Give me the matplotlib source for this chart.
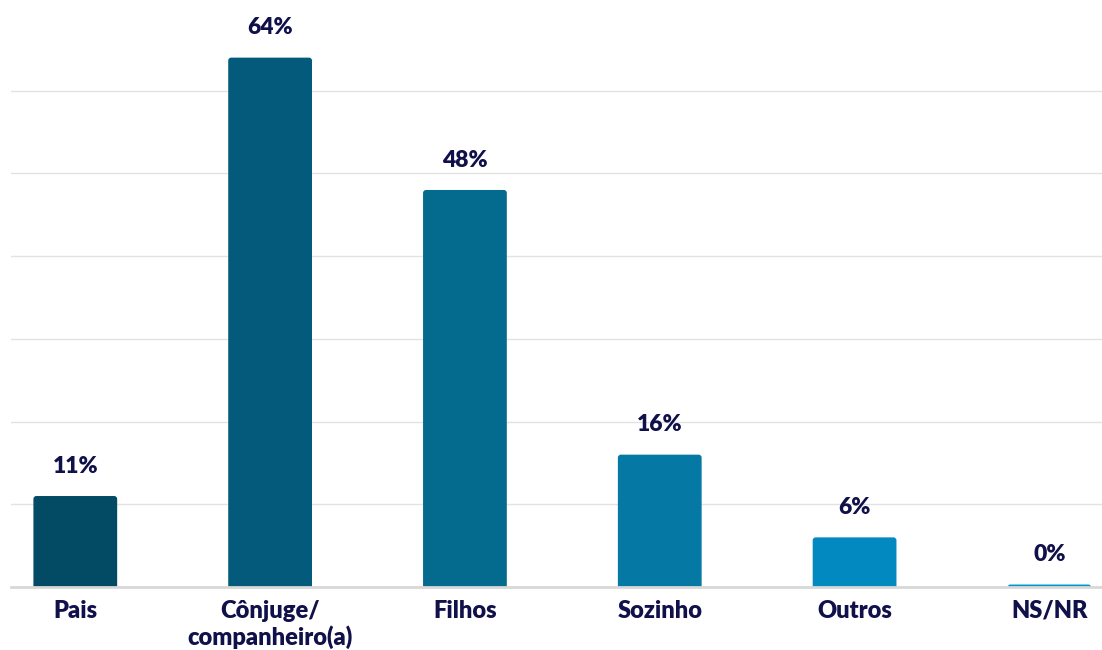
import matplotlib
matplotlib.use("Agg")
import matplotlib.pyplot as plt
from matplotlib.patches import FancyBboxPatch

categories = ["Pais", "Cônjuge/\ncompanheiro(a)", "Filhos", "Sozinho", "Outros", "NS/NR"]
values = [11, 64, 48, 16, 6, 0]
colors = ["#034b65", "#035a7a", "#046b8e", "#0579a3", "#0289bf", "#0096d1"]

text_color = "#10104a"
plt.rcParams["font.family"] = ["Lato", "DejaVu Sans"]

fig = plt.figure(figsize=(11.02, 6.5), dpi=100)
ax = fig.add_axes([11 / 1102, 63 / 650, 1 - 11 / 1102, 579 / 650])
ax.set_xlim(-0.33, 5.27)
ax.set_ylim(0, 70)

bar_w = 0.43
# px per data unit, used to keep the corner rounding circular
px_x = 1091 / 5.6
px_y = 579 / 70
r = 3 / px_x
for i, (v, c) in enumerate(zip(values, colors)):
    h = max(v, 0.3)  # keep a sliver visible for empty categories
    patch = FancyBboxPatch((i - bar_w / 2, -2), bar_w, h + 2,
                           boxstyle=f"round,pad=0,rounding_size={r}",
                           mutation_aspect=px_x / px_y,
                           fc=c, ec="none", zorder=3, clip_on=True)
    ax.add_patch(patch)
    ax.annotate(f"{v}%", (i, h), xytext=(0, 14), textcoords="offset points",
                ha="center", va="bottom", fontsize=16.5, fontweight="heavy",
                color=text_color)

ax.set_yticks(range(0, 61, 10))
ax.yaxis.grid(True, color="#e2e2e2", linewidth=1)
ax.set_axisbelow(True)
ax.tick_params(axis="y", left=False, labelleft=False)
ax.set_xticks(range(len(categories)))
ax.set_xticklabels(categories, fontsize=17, fontweight="heavy", color=text_color,
                   linespacing=1.2, va="top")
ax.tick_params(axis="x", length=0, pad=9)
for s in ["top", "right", "left"]:
    ax.spines[s].set_visible(False)
ax.spines["bottom"].set_color("#d8d8d8")
ax.spines["bottom"].set_linewidth(2)
ax.spines["bottom"].set_zorder(4)

fig.savefig("out.png", dpi=100)
